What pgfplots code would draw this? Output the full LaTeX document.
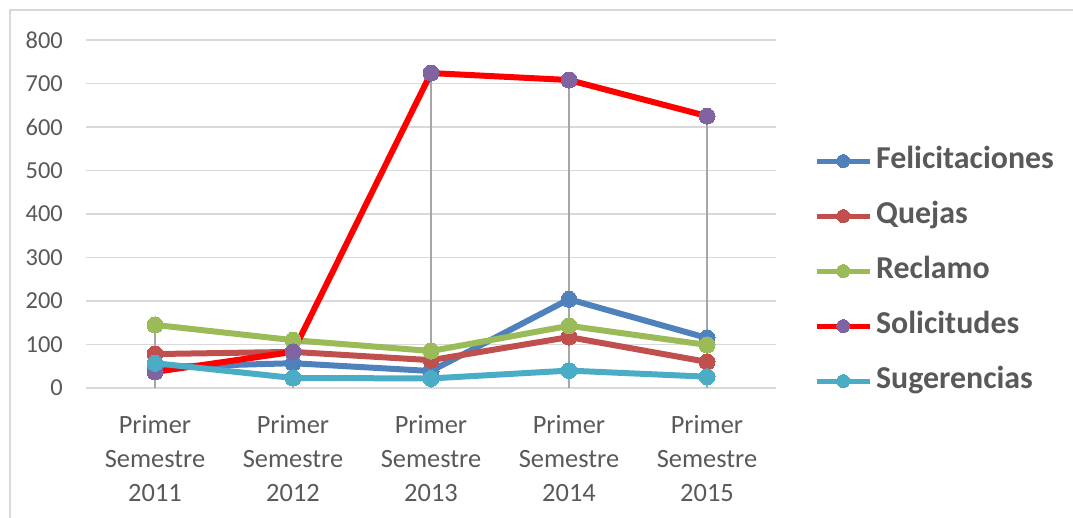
\documentclass[border=0pt]{standalone}
\usepackage{pgfplots}
\pgfplotsset{compat=1.18}
\usepackage{fontspec}
\setmainfont{Carlito}
\definecolor{cFel}{HTML}{4F81BD}
\definecolor{cQue}{HTML}{C0504D}
\definecolor{cRec}{HTML}{9BBB59}
\definecolor{cSolL}{HTML}{FF0000}
\definecolor{cSolM}{HTML}{8064A2}
\definecolor{cSug}{HTML}{4BACC6}
\definecolor{tickc}{HTML}{595959}
\definecolor{gridc}{HTML}{D9D9D9}
\definecolor{dropc}{HTML}{A6A6A6}
\begin{document}
\begin{tikzpicture}
\path[use as bounding box] (0,0) rectangle (1073bp,518bp);
\draw[color=gridc, line width=1.5bp] (10bp,0) -- (10bp,508bp) -- (1073bp,508bp);
\begin{axis}[
  at={(86bp,130bp)}, anchor=south west,
  scale only axis, width=690bp, height=348bp,
  xmin=-0.5, xmax=4.5, ymin=0, ymax=800,
  ytick={0,100,...,800},
  xtick={0,1,2,3,4},
  xticklabels={{Primer\\Semestre\\2011},{Primer\\Semestre\\2012},{Primer\\Semestre\\2013},{Primer\\Semestre\\2014},{Primer\\Semestre\\2015}},
  axis line style={draw=none},
  tick style={draw=none},
  ymajorgrids,
  grid style={line width=1.5bp, color=gridc},
  /pgf/number format/assume math mode=true,
  yticklabel style={font=\fontsize{24.5}{28}\selectfont, text=tickc, inner sep=0pt, xshift=-23bp},
  xticklabel style={font=\fontsize{26.5}{34}\selectfont, text=tickc, align=center, inner sep=0pt, yshift=-27bp},
  legend style={at={(1.055,0.336)}, anchor=west, draw=none, fill=none, inner sep=0pt,
    font=\fontsize{32}{32}\bfseries\selectfont, text=tickc, row sep=26bp, column sep=4bp,
    nodes={inner sep=0pt, text height=22bp, text depth=7bp}},
  legend cell align=left,
  legend image code/.code={\draw[mark repeat=2,mark phase=2,mark size=6.5bp,line width=5bp] plot coordinates {(0bp,0bp) (26.5bp,0bp) (53bp,0bp)};},
  every axis plot/.append style={line width=6bp, line join=round, mark=*, mark size=8bp},
  clip=false,
]
\addplot[color=cFel, mark options={fill=cFel, draw=cFel, line width=0pt}] coordinates {(0,48) (1,57) (2,39) (3,204) (4,115)};
\addlegendentry{Felicitaciones}
\addplot[color=cQue, mark options={fill=cQue, draw=cQue, line width=0pt}] coordinates {(0,78) (1,83) (2,64) (3,117) (4,60)};
\addlegendentry{Quejas}
\addplot[color=cRec, mark options={fill=cRec, draw=cRec, line width=0pt}] coordinates {(0,145) (1,110) (2,85) (3,143) (4,99)};
\addlegendentry{Reclamo}
\addplot[color=cSolL, mark options={fill=cSolM, draw=cSolM, line width=0pt}] coordinates {(0,37) (1,83) (2,724) (3,708) (4,625)};
\addlegendentry{Solicitudes}
\addplot[color=cSug, mark options={fill=cSug, draw=cSug, line width=0pt}] coordinates {(0,57) (1,23) (2,22) (3,40) (4,26)};
\addlegendentry{Sugerencias}
\addplot[ycomb, color=dropc, line width=1.5bp, mark=none, forget plot] coordinates {(0,145) (1,110) (2,724) (3,708) (4,625)};
\end{axis}
\end{tikzpicture}
\end{document}
